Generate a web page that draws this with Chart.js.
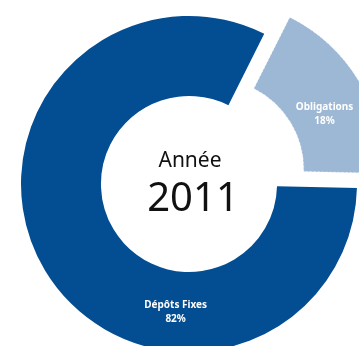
<!DOCTYPE html>
<html lang="fr">
<head>
<meta charset="utf-8">
<title>Répartition 2011</title>
<script src="https://cdn.jsdelivr.net/npm/chart.js@4/dist/chart.umd.min.js"></script>
<style>
  html, body { margin: 0; padding: 0; background: #fff; overflow: hidden; }
  #wrap { position: relative; width: 359px; height: 346px; overflow: hidden; }
  #repartition { position: absolute; left: 0; top: 0; }
</style>
</head>
<body>
<div id="wrap">
  <canvas id="repartition" width="378" height="368"></canvas>
</div>
<script>
const categories = ["Dépôts Fixes", "Obligations"];
const values = [82, 18];
const centerTitle = "Année";
const centerYear = "2011";

const colors = ["#034e93", "#9cb8d5"];

// where each slice label sits: angle in degrees clockwise from top, distance from centre
const labelPlacement = [
  { angle: 186, dist: 128 },
  { angle: 62.4, dist: 153 },
];

// centre text + slice labels drawn on top of the ring
const textPlugin = {
  id: "doughnutText",
  afterDatasetsDraw(chart) {
    const ctx = chart.ctx;
    const meta = chart.getDatasetMeta(0);
    const cx = meta.data[0].x;
    const cy = meta.data[0].y;

    ctx.save();
    ctx.textAlign = "center";
    ctx.textBaseline = "alphabetic";
    ctx.fillStyle = "#111";
    ctx.font = "21px 'Noto Sans'";
    ctx.fillText(centerTitle, cx + 1, cy - 17);
    ctx.font = "40px 'Noto Sans'";
    ctx.fillText(centerYear, cx + 4, cy + 27);

    ctx.fillStyle = "#ffffff";
    ctx.font = "bold 10px 'Noto Sans'";
    ctx.textBaseline = "middle";
    meta.data.forEach((arc, i) => {
      const place = labelPlacement[i];
      const a = (place.angle - 90) * Math.PI / 180;
      const x = cx + Math.cos(a) * place.dist;
      const y = cy + Math.sin(a) * place.dist;
      ctx.fillText(categories[i], x, y - 6);
      ctx.fillText(values[i] + "%", x, y + 8);
    });
    ctx.restore();
  }
};

const ctx = document.getElementById("repartition").getContext("2d");
new Chart(ctx, {
  type: "doughnut",
  data: {
    labels: categories,
    datasets: [
      {
        data: values,
        backgroundColor: colors,
        borderColor: ["rgba(0,0,0,0)", "rgba(255,255,255,0.6)"],
        borderWidth: [0, 1],
        borderDash: [2, 2],
        offset: [0, 112],
        spacing: 0,
      },
    ],
  },
  options: {
    responsive: false,
    animation: false,
    events: [],
    rotation: 91.4,
    radius: 168,
    cutout: "52.4%",
    layout: { padding: 0 },
    plugins: {
      legend: { display: false },
      tooltip: { enabled: false },
    },
  },
  plugins: [textPlugin],
});
</script>
</body>
</html>
